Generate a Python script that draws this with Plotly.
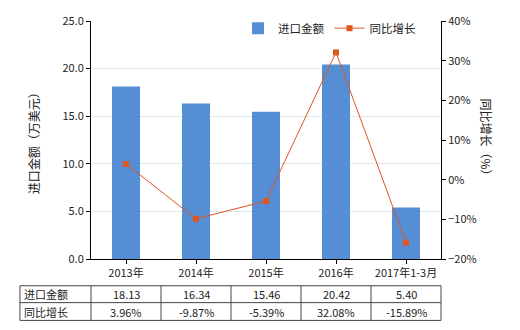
import plotly.graph_objects as go

categories = ["2013年", "2014年", "2015年", "2016年", "2017年1-3月"]
import_values = [18.13, 16.34, 15.46, 20.42, 5.40]
growth_values = [3.96, -9.87, -5.39, 32.08, -15.89]
bar_name = "进口金额"
line_name = "同比增长"
left_title = "进口金额（万美元）"
right_title = "同比增长（%）"

FONT = "Noto Sans CJK SC, Microsoft YaHei, sans-serif"
BAR_COLOR = "#558ED5"
LINE_COLOR = "#E0561E"
TXT = "#222222"

fig = go.Figure()
fig.add_trace(go.Bar(x=categories, y=import_values, name=bar_name,
                     marker=dict(color=BAR_COLOR, line=dict(width=0)), width=0.4, yaxis="y"))
fig.add_trace(go.Scatter(x=categories, y=growth_values, name=line_name, mode="lines+markers",
                         line=dict(color=LINE_COLOR, width=1),
                         marker=dict(symbol="square", size=6, color=LINE_COLOR), yaxis="y2"))

n = len(categories)
shapes = []
annotations = []
# table geometry in paper coords
y_top, y_mid, y_bot = -0.1125, -0.1833, -0.258
x_left = -0.203
line_style = dict(color="#444444", width=1)
for yy in (y_top, y_mid, y_bot):
    shapes.append(dict(type="line", xref="paper", yref="paper", x0=x_left, x1=1, y0=yy, y1=yy, line=line_style))
shapes.append(dict(type="line", xref="paper", yref="paper", x0=x_left, x1=x_left, y0=y_top, y1=y_bot, line=line_style))
for k in range(n + 1):
    xx = k / n
    shapes.append(dict(type="line", xref="paper", yref="paper", x0=xx, x1=xx, y0=y_top, y1=y_bot, line=line_style))

row_labels = [bar_name, line_name]
row_texts = [[f"{v:.2f}" for v in import_values], [f"{v:.2f}%" for v in growth_values]]
row_centers = [(y_top + y_mid) / 2, (y_mid + y_bot) / 2]
for r in range(2):
    annotations.append(dict(xref="paper", yref="paper", x=x_left + 0.006, y=row_centers[r], text=row_labels[r],
                            showarrow=False, xanchor="left", yanchor="middle",
                            font=dict(family=FONT, size=11, color=TXT)))
    for i in range(n):
        annotations.append(dict(xref="paper", yref="paper", x=(i + 0.5) / n, y=row_centers[r], text=row_texts[r][i],
                                showarrow=False, xanchor="center", yanchor="middle",
                                font=dict(family=FONT, size=11, color=TXT)))

annotations.append(dict(xref="paper", yref="paper", x=-0.165, y=0.5, text=left_title, textangle=-90,
                        showarrow=False, xanchor="center", yanchor="middle",
                        font=dict(family=FONT, size=12, color=TXT)))
annotations.append(dict(xref="paper", yref="paper", x=1.13, y=0.5, text=right_title, textangle=90,
                        showarrow=False, xanchor="center", yanchor="middle",
                        font=dict(family=FONT, size=12, color=TXT)))

fig.update_layout(
    width=520, height=330,
    margin=dict(l=91, r=79, t=19, b=71),
    paper_bgcolor="white", plot_bgcolor="white",
    font=dict(family=FONT, size=11, color=TXT),
    showlegend=True,
    legend=dict(orientation="h", x=0.42, y=0.97, xanchor="left", yanchor="middle",
                bgcolor="rgba(0,0,0,0)", font=dict(family=FONT, size=11.5, color=TXT),
                itemwidth=30, tracegroupgap=0),
    bargap=0.6,
    xaxis=dict(type="category", range=[-0.5, n - 0.5], showgrid=False, showline=True,
               linecolor="black", linewidth=1, ticks="outside", ticklen=4, tickcolor="black",
               tickfont=dict(family=FONT, size=11, color=TXT)),
    yaxis=dict(range=[0, 25], dtick=5, tickformat=".1f", showgrid=True, gridcolor="#DCEAEA",
               showline=True, linecolor="black", linewidth=1, ticks="outside", ticklen=4,
               tickcolor="black", zeroline=False, tickfont=dict(family=FONT, size=11, color=TXT)),
    yaxis2=dict(range=[-20, 40], dtick=10, ticksuffix="%", overlaying="y", side="right",
                showgrid=False, showline=True, linecolor="black", linewidth=1, ticks="outside",
                ticklen=4, tickcolor="black", zeroline=False,
                tickfont=dict(family=FONT, size=11, color=TXT)),
    shapes=shapes,
    annotations=annotations,
)

fig.write_html("out.html")
